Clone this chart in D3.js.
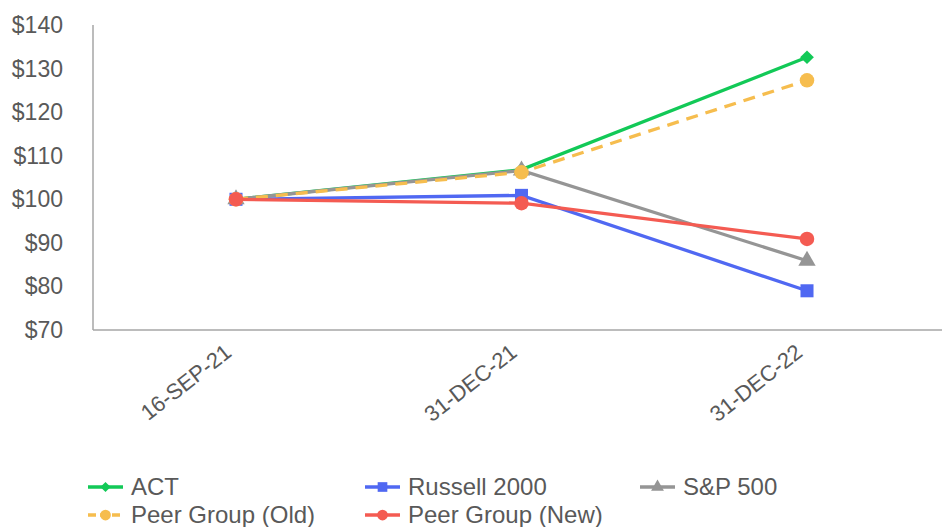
<!DOCTYPE html>
<html><head><meta charset="utf-8">
<script src="https://cdn.jsdelivr.net/npm/d3@7"></script>
<style>body{margin:0;background:#fff}svg{display:block;font-family:"Liberation Sans",Arial,sans-serif}</style>
</head><body><svg id="c" width="942" height="527"></svg>
<script>
const categories = ["16-SEP-21", "31-DEC-21", "31-DEC-22"];
const act = [100, 106.8, 132.6];
const russell = [100, 100.9, 79.0];
const sp500 = [100, 106.6, 85.9];
const peerOld = [100, 106.2, 127.3];
const peerNew = [100, 99.1, 90.9];
const yTicks = [70, 80, 90, 100, 110, 120, 130, 140];

const series = [
  {name: "ACT", values: act, color: "#12c957", symbol: d3.symbolDiamond2, size: 120, dash: null},
  {name: "Russell 2000", values: russell, color: "#5068f2", symbol: d3.symbolSquare, size: 170, dash: null},
  {name: "S&P 500", values: sp500, color: "#959595", symbol: d3.symbolTriangle, size: 130, dash: null},
  {name: "Peer Group (Old)", values: peerOld, color: "#f6bd4e", symbol: d3.symbolCircle, size: 165, dash: "12,8"},
  {name: "Peer Group (New)", values: peerNew, color: "#f45b52", symbol: d3.symbolCircle, size: 165, dash: null}
];

const svg = d3.select("#c");
const x = d3.scalePoint().domain(categories).range([236, 807]);
const y = d3.scaleLinear().domain([70, 140]).range([330, 25]);

// axes
svg.append("line").attr("x1", 93).attr("x2", 93).attr("y1", 25).attr("y2", 330).attr("stroke", "#a6a6a6").attr("stroke-width", 1.5);
svg.append("line").attr("x1", 93).attr("x2", 942).attr("y1", 330).attr("y2", 330).attr("stroke", "#a6a6a6").attr("stroke-width", 1.5);

svg.append("g").selectAll("text").data(yTicks).join("text")
  .attr("x", 63).attr("y", d => y(d)).attr("dy", "0.35em")
  .attr("text-anchor", "end").attr("font-size", 23).attr("fill", "#595959")
  .text(d => "$" + d);

svg.append("g").selectAll("text").data(categories).join("text")
  .attr("transform", d => `translate(${x(d) - 3},${355}) rotate(-38)`)
  .attr("text-anchor", "end").attr("font-size", 22).attr("fill", "#595959")
  .text(d => d);

const line = d3.line().x((d, i) => x(categories[i])).y(d => y(d));
series.forEach(s => {
  svg.append("path").attr("d", line(s.values)).attr("fill", "none")
    .attr("stroke", s.color).attr("stroke-width", 3.3)
    .attr("stroke-dasharray", s.dash);
  svg.append("g").selectAll("path").data(s.values).join("path")
    .attr("transform", (d, i) => `translate(${x(categories[i])},${y(d)})`)
    .attr("d", d3.symbol().type(s.symbol).size(s.size)).attr("fill", s.color);
});

// legend
const legendPos = [[88, 487], [365, 487], [640, 487], [88, 515], [365, 515]];
series.forEach((s, i) => {
  const [lx, ly] = legendPos[i];
  const g = svg.append("g").attr("transform", `translate(${lx},${ly})`);
  g.append("line").attr("x1", 0).attr("x2", 35).attr("y1", 0).attr("y2", 0)
    .attr("stroke", s.color).attr("stroke-width", 3.3).attr("stroke-dasharray", s.dash ? "8,4" : null);
  g.append("path").attr("transform", "translate(17.5,0)")
    .attr("d", d3.symbol().type(s.symbol).size(s.size * 0.55)).attr("fill", s.color);
  g.append("text").attr("x", 43).attr("y", 0).attr("dy", "0.35em")
    .attr("font-size", 24).attr("fill", "#595959").text(s.name);
});
</script></body></html>
